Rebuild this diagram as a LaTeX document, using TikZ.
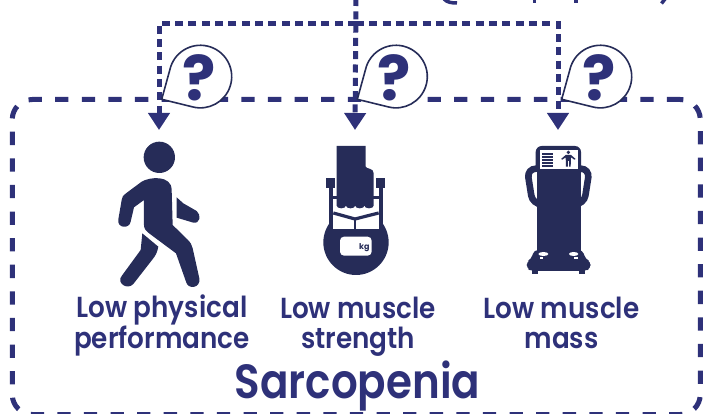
\documentclass[tikz,border=0pt]{standalone}
\usepackage{fontspec}
\usetikzlibrary{arrows.meta}
\newfontfamily\labelfont[FakeStretch=0.905]{Poppins SemiBold}
\newfontfamily\titlefont[FakeStretch=0.875]{Poppins SemiBold}
\newfontfamily\askfont{Poppins Bold}
\definecolor{sarcoBlue}{RGB}{46,49,121}
\definecolor{iconNavy}{RGB}{38,44,88}
\tikzset{
  flow/.style={sarcoBlue, line width=5pt, dash pattern=on 8pt off 5.3pt, -{Triangle[length=17pt,width=21pt]}},
  frameBox/.style={draw=sarcoBlue, line width=5pt, dash pattern=on 13.3pt off 13.3pt, rounded corners=20pt,
    inner sep=0pt, outer sep=0pt, minimum width=688pt, minimum height=315pt},
  bubble/.style={draw=iconNavy, line width=1.6pt, fill=white, line join=round},
  caption/.style={sarcoBlue, inner sep=0pt, align=center, anchor=base, font=\labelfont\fontsize{29}{30}\selectfont},
  strip/.style={sarcoBlue, line width=3.5pt},
  icon/.style={x=0.3333pt, y=-0.3333pt}
}
\begin{document}
\begin{tikzpicture}[x=1pt,y=-1pt]
\useasboundingbox (0,0) rectangle (703,414);
% Frame
\node[frameBox] (sarcoBox) at (356.25,257) {};
% Pieces of the shape above
\draw[strip] (444,-1) .. controls (447,2.5) and (452,3) .. (457,3);
\draw[strip] (534.5,-1) -- (534.5,3.5);
\draw[strip] (576,-1) -- (576,3.5);
\draw[strip] (665,-1) -- (661.5,3.5);
% Connectors
\coordinate (entry) at (356,-2);
\coordinate (branch) at (356,23.3);
\coordinate (tipPhysical) at (159,130);
\coordinate (tipStrength) at (355,130);
\coordinate (tipMass) at (558,130);
\draw[flow] (branch) -| (tipPhysical);
\draw[flow] (branch) -| (tipMass);
\draw[flow] (entry) -- (tipStrength);
% Question bubbles
\foreach \tipx/\qname in {161.7/askPhysical,357.3/askStrength,561.7/askMass}{
  \draw[bubble] (\tipx,99.3) -- ++(9,-32.6) arc[start angle=198.4,end angle=464.4,radius=31.3] -- cycle;
  \node[sarcoBlue, inner sep=0pt, font=\askfont\fontsize{62}{62}\selectfont] (\qname) at (\tipx+37,78) {?};
}
% Walking person
\begin{scope}[shift={(100,130)},icon]
  \fill[iconNavy] (178,82) circle (47);
  \fill[iconNavy] (125,155) .. controls (150,140) and (215,135) .. (215,180) -- (218,285) -- (262,328) .. controls (272,338) and (276,345) .. (278,355) -- (298,445) .. controls (303,475) and (263,480) .. (258,455) -- (228,370) -- (150,312) .. controls (138,303) and (132,297) .. (132,285) -- (132,210) -- (102,232) -- (92,275) .. controls (88,298) and (50,295) .. (55,268) -- (65,210) .. controls (66,200) and (70,195) .. (78,190) -- cycle;
  \fill[iconNavy] (127,310) -- (175,350) .. controls (172,365) and (168,375) .. (160,385) -- (100,462) .. controls (82,482) and (48,458) .. (65,438) -- (122,360) -- cycle;
  \fill[iconNavy] (230,202) -- (250,220) -- (290,243) .. controls (305,255) and (300,282) .. (280,278) -- (230,263) -- cycle;
\end{scope}
% Hand dynamometer
\begin{scope}[shift={(310,135)},icon]
  \fill[iconNavy] (138,322) circle (98);
  \fill[white] (70,160) rectangle (206,282);
  \fill[iconNavy] (57,160) rectangle (70,285);
  \fill[iconNavy] (206,160) rectangle (219,285);
  \fill[iconNavy] (49,130) rectangle (75,160);
  \fill[iconNavy] (198,130) rectangle (226,160);
  \fill[iconNavy] (70,184) rectangle (82,192);
  \fill[iconNavy] (190,184) rectangle (206,192);
  \draw[iconNavy, line width=3.2pt] (70,234) -- (135,252) -- (206,234);
  \draw[iconNavy, line width=1.3pt] (135,252) -- (135,282);
  \fill[iconNavy] (80,33) -- (167,33) -- (167,95) .. controls (170,103) and (191,98) .. (191,115) -- (191,212)
    arc[start angle=0,end angle=180,x radius=13.875,y radius=8]
    arc[start angle=0,end angle=180,x radius=13.875,y radius=8]
    arc[start angle=0,end angle=180,x radius=13.875,y radius=8]
    arc[start angle=0,end angle=180,x radius=13.875,y radius=8] -- cycle;
  \fill[white, rounded corners=4pt] (90,305) rectangle (185,362);
  \node[iconNavy, inner sep=0pt, font=\askfont\fontsize{8}{8}\selectfont] (kgMark) at (163,339) {kg};
\end{scope}
% Body scale
\begin{scope}[shift={(510,135)},icon]
  \fill[iconNavy, rounded corners=6pt] (77,115) -- (77,33) -- (213,33) -- (213,115) -- cycle;
  \fill[white] (90,45) rectangle (205,102);
  \foreach \bary in {53,62,71,80,89}{
    \fill[iconNavy] (96,\bary) rectangle (130,\bary+6);
  }
  \fill[iconNavy] (175,52) circle (5.5);
  \fill[iconNavy] (167,60) -- (183,60) -- (197,72) -- (193,74) -- (183,67) -- (182,95) -- (168,95) -- (167,67) -- (157,74) -- (153,72) -- cycle;
  \fill[white] (174.5,78) rectangle (175.5,95);
  \draw[iconNavy, line width=6.6pt, rounded corners=9pt] (85,101) -- (51,101) -- (68,208) -- (85,208);
  \draw[iconNavy, line width=6.6pt, rounded corners=9pt] (205,101) -- (239,101) -- (222,208) -- (205,208);
  \fill[iconNavy] (80,102) rectangle (212,350);
  \fill[iconNavy, rounded corners=4pt] (72,345) -- (218,345) -- (226,372) -- (242,380) -- (242,400) -- (226,408) -- (64,408) -- (50,400) -- (50,380) -- (64,372) -- cycle;
  \fill[iconNavy] (65,405) rectangle (83,417);
  \fill[iconNavy] (208,405) rectangle (226,417);
  \fill[white] (100,357) ellipse (15 and 6);
  \fill[white] (191,357) ellipse (14 and 6);
  \fill[white] (89,367) rectangle (100,373);
  \fill[white] (191,367) rectangle (203,373);
\end{scope}
% Captions
\node[caption] (lblPhysical) at (162,348.5) {Low physical\\performance};
\node[caption] (lblStrength) at (358,348.5) {Low muscle\\strength};
\node[caption] (lblMass) at (561.5,348.5) {Low muscle\\mass};
\node[sarcoBlue, inner sep=0pt, anchor=base, font=\titlefont\fontsize{48}{48}\selectfont] (lblSarcopenia) at (357.5,398) {Sarcopenia};
\end{tikzpicture}
\end{document}
